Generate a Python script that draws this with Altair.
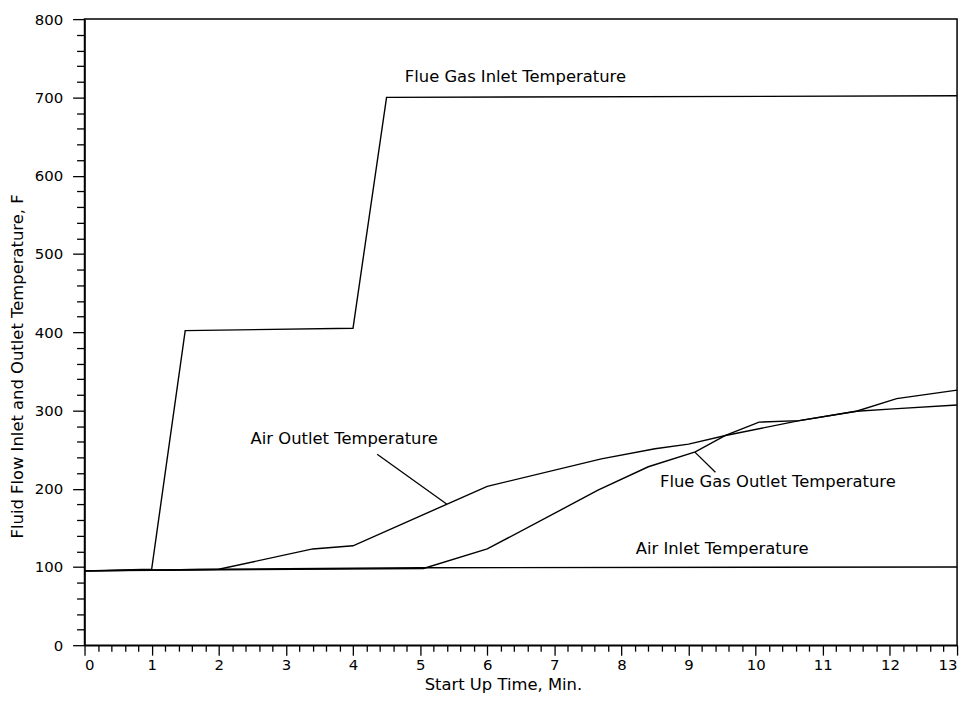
import altair as alt
import pandas as pd

# ---- data (deskewed) ----
fgi_time = [0, 1, 1.5, 4, 4.5, 13]
fgi_temp = [95, 97, 402, 405, 700, 702]

ai_time = [0, 2, 5, 13]
ai_temp = [95, 97, 99, 100]

ao_time = [0, 2, 3.4, 4, 6, 7.7, 8.5, 9, 9.55, 10.65, 11.5, 12.05, 13]
ao_temp = [95, 97, 123, 127, 203, 238, 251, 257, 268, 287, 299, 302, 307]

fgo_time = [0, 5.05, 6, 7.65, 8.4, 9.1, 9.55, 10.05, 10.65, 11.5, 12.1, 13]
fgo_temp = [95, 98, 123, 198, 228, 247, 268, 285, 287, 299, 315, 326]

label_text = ["Flue Gas Inlet Temperature", "Air Outlet Temperature",
              "Flue Gas Outlet Temperature", "Air Inlet Temperature"]
label_x = [6.42, 3.87, 10.33, 9.5]
label_y = [726, 264, 208, 123]

leader_x = [4.36, 9.4]
leader_y = [244, 221]
leader_x2 = [5.4, 9.09]
leader_y2 = [180, 247]

x_ticks = [round(i * 0.2, 1) for i in range(0, 66)]
y_ticks = list(range(0, 801, 20))

series = [
    ("Flue Gas Inlet Temperature", fgi_time, fgi_temp),
    ("Air Inlet Temperature", ai_time, ai_temp),
    ("Air Outlet Temperature", ao_time, ao_temp),
    ("Flue Gas Outlet Temperature", fgo_time, fgo_temp),
]
rows = []
for name, ts, vs in series:
    for i, (t, v) in enumerate(zip(ts, vs)):
        rows.append({"series": name, "order": i, "time": t, "temp": v})
df = pd.DataFrame(rows)

labels_df = pd.DataFrame({"time": label_x, "temp": label_y, "text": label_text})
leaders_df = pd.DataFrame({"time": leader_x, "temp": leader_y,
                           "time2": leader_x2, "temp2": leader_y2})

FONT = "DejaVu Sans"
x_scale = alt.Scale(domain=[0, 13], nice=False, zero=False)
y_scale = alt.Scale(domain=[0, 800], nice=False)

x_major_test = "abs(datum.value - round(datum.value)) < 0.001"
y_major_test = "datum.value % 100 === 0"

x_axis = alt.Axis(
    values=x_ticks,
    labelExpr=f"{x_major_test} ? format(round(datum.value), 'd') : ''",
    tickSize={"condition": {"test": x_major_test, "value": 10}, "value": 6},
    labelPadding=2,
    title="Start Up Time, Min.",
    titleX=421, titleY=40, titleBaseline="middle", titleAlign="center",
    titleFontSize=16.5,
    grid=False,
)
y_axis = alt.Axis(
    values=y_ticks,
    labelExpr=f"{y_major_test} ? format(datum.value, 'd') : ''",
    tickSize={"condition": {"test": y_major_test, "value": 12}, "value": 8},
    labelPadding=10,
    title="Fluid Flow Inlet and Outlet Temperature, F",
    titleX=-67, titleY=349, titleBaseline="middle", titleAlign="center", titleAngle=270,
    titleFontSize=16.5,
    grid=False,
)

X = alt.X("time:Q", scale=x_scale, axis=x_axis)
Y = alt.Y("temp:Q", scale=y_scale, axis=y_axis)

lines = alt.Chart(df).mark_line(color="black", strokeWidth=1.4).encode(
    x=X, y=Y, detail="series:N", order="order:Q",
)

leaders = alt.Chart(leaders_df).mark_rule(color="black", strokeWidth=1.3).encode(
    x=X, y=Y, x2="time2:Q", y2="temp2:Q",
)

texts = alt.Chart(labels_df).mark_text(
    font=FONT, fontSize=16.5, color="black", align="center", baseline="middle"
).encode(x=X, y=Y, text="text:N")

chart = alt.layer(lines, leaders, texts).properties(
    width=878,
    height=630,
    padding={"left": 77, "top": 9, "right": 10, "bottom": 60},
    autosize=alt.AutoSizeParams(type="none"),
    background="white",
).configure_view(
    stroke="black", strokeWidth=1.5
).configure_axis(
    domainColor="black", domainWidth=1.5,
    tickColor="black", tickWidth=1.3,
    labelColor="black", labelFont=FONT, labelFontSize=15,
    titleColor="black", titleFont=FONT, titleFontWeight="normal",
)

chart.save("out.html", embed_options={"renderer": "svg", "actions": False})
